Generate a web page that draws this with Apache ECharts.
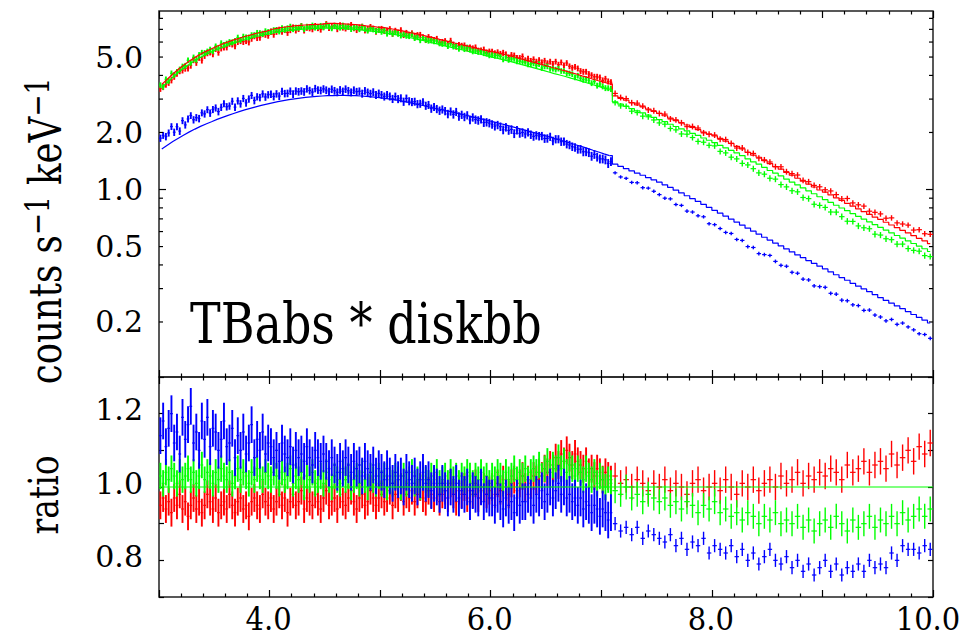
<!DOCTYPE html>
<html>
<head>
<meta charset="utf-8">
<script src="https://cdn.jsdelivr.net/npm/echarts@6/dist/echarts.min.js"></script>
<style>
  html, body { margin: 0; padding: 0; background: #fff; }
  #chart { width: 964px; height: 641px; }
</style>
</head>
<body>
<div id="chart"></div>
<script>
// Energy binning (keV): data bins are 0.025 keV wide below 7.1 keV and
// 0.05 keV wide above; model bins are 0.05 keV wide over the whole band.
const E_MIN = 3.0, E_MAX = 10.0, E_SPLIT = 7.1;
const FINE_WIDTH = 0.025, COARSE_WIDTH = 0.05, MODEL_WIDTH = 0.05;

// Folded TBabs*diskbb model, counts s^-1 keV^-1, one value per 0.05 keV bin (3.0-10.0 keV)
const modelRed = [
  3.59,3.82,4.07,4.31,4.54,4.76,4.98,5.18,5.36,5.53,
  5.70,5.87,6.01,6.16,6.28,6.42,6.53,6.66,6.76,6.85,
  7.01,7.10,7.18,7.25,7.30,7.35,7.38,7.41,7.43,7.46,
  7.53,7.53,7.50,7.48,7.45,7.42,7.37,7.31,7.27,7.20,
  7.17,7.08,7.01,6.92,6.83,6.73,6.65,6.54,6.43,6.33,
  6.23,6.12,6.03,5.93,5.84,5.75,5.66,5.56,5.47,5.39,
  5.33,5.24,5.16,5.07,4.99,4.89,4.80,4.72,4.63,4.55,
  4.46,4.38,4.30,4.23,4.14,4.07,3.98,3.91,3.82,3.75,
  3.69,3.61,3.12,3.03,2.96,2.87,2.80,2.73,2.66,2.58,
  2.52,2.45,2.38,2.31,2.25,2.19,2.13,2.07,2.01,1.96,
  1.92,1.86,1.80,1.75,1.69,1.64,1.57,1.52,1.48,1.42,
  1.37,1.32,1.28,1.23,1.19,1.147,1.107,1.068,1.031,0.994,
  0.968,0.936,0.904,0.875,0.846,0.817,0.791,0.764,0.739,0.715,
  0.695,0.672,0.650,0.629,0.609,0.590,0.571,0.553,0.536,0.518
];
const modelGreen = [
  3.45,3.67,3.91,4.14,4.37,4.58,4.79,4.98,5.15,5.32,
  5.48,5.64,5.78,5.92,6.04,6.17,6.28,6.40,6.50,6.59,
  6.68,6.76,6.84,6.90,6.95,7.00,7.03,7.06,7.08,7.10,
  7.10,7.10,7.08,7.06,7.03,7.00,6.95,6.90,6.86,6.79,
  6.73,6.65,6.58,6.50,6.41,6.32,6.24,6.14,6.04,5.94,
  5.85,5.75,5.66,5.57,5.48,5.40,5.31,5.22,5.14,5.06,
  4.98,4.90,4.82,4.74,4.66,4.57,4.49,4.41,4.33,4.25,
  4.17,4.09,4.02,3.95,3.87,3.80,3.72,3.65,3.57,3.50,
  3.43,3.36,2.90,2.82,2.75,2.67,2.60,2.54,2.47,2.40,
  2.34,2.28,2.21,2.15,2.09,2.04,1.98,1.93,1.87,1.82,
  1.77,1.71,1.66,1.61,1.56,1.51,1.45,1.40,1.36,1.31,
  1.26,1.22,1.18,1.135,1.095,1.057,1.020,0.984,0.950,0.916,
  0.884,0.855,0.826,0.799,0.773,0.746,0.722,0.698,0.675,0.653,
  0.632,0.611,0.591,0.572,0.554,0.536,0.519,0.503,0.487,0.471
];
const modelBlue = [
  1.637,1.714,1.791,1.866,1.941,2.014,2.084,2.153,2.218,2.280,
  2.344,2.404,2.463,2.520,2.576,2.630,2.682,2.732,2.780,2.825,
  2.868,2.908,2.944,2.979,3.010,3.038,3.062,3.083,3.101,3.115,
  3.126,3.133,3.137,3.137,3.133,3.126,3.115,3.101,3.083,3.062,
  3.038,3.010,2.979,2.944,2.908,2.868,2.825,2.783,2.742,2.701,
  2.661,2.621,2.582,2.544,2.506,2.466,2.427,2.388,2.350,2.312,
  2.275,2.236,2.198,2.160,2.123,2.084,2.046,2.009,1.972,1.936,
  1.899,1.862,1.826,1.791,1.754,1.718,1.683,1.648,1.612,1.578,
  1.543,1.510,1.361,1.324,1.288,1.253,1.220,1.189,1.156,1.125,
  1.093,1.059,1.026,0.992,0.959,0.927,0.895,0.865,0.835,0.805,
  0.777,0.750,0.724,0.698,0.673,0.649,0.625,0.603,0.581,0.560,
  0.541,0.522,0.504,0.486,0.469,0.452,0.437,0.422,0.408,0.394,
  0.381,0.368,0.355,0.343,0.332,0.320,0.309,0.299,0.289,0.279,
  0.269,0.260,0.2515,0.243,0.235,0.227,0.219,0.2115,0.2045,0.1975
];

// Data/model ratio per data bin: 164 fine bins (3.0-7.1 keV), then 58 coarse bins (7.1-10.0 keV)
const ratioRed = [
  0.95,0.97,0.94,0.96,0.93,0.97,0.95,0.98,0.94,0.96,
  0.92,0.95,0.97,0.94,0.96,0.93,0.95,0.98,0.96,0.94,
  0.97,0.93,0.95,0.96,0.94,0.98,0.95,0.93,0.96,0.97,
  0.94,0.95,0.92,0.96,0.97,0.95,0.94,0.98,0.96,0.95,
  0.97,0.94,0.96,0.98,0.95,0.97,0.93,0.96,0.98,0.95,
  0.96,0.99,0.94,0.97,0.96,0.95,0.98,0.96,0.94,0.97,
  0.99,0.95,0.96,0.97,0.94,0.98,0.96,0.95,0.97,0.99,
  0.96,0.94,0.97,0.98,0.95,0.96,0.99,0.97,0.95,0.97,
  0.98,0.96,0.97,0.99,0.95,0.98,0.97,1.00,0.96,0.98,
  0.97,0.99,0.96,0.98,1.00,0.97,0.96,0.99,0.98,0.97,
  1.00,0.96,0.98,0.99,0.97,1.01,0.98,0.96,0.99,0.98,
  1.00,0.97,0.99,0.98,1.01,0.97,0.99,1.00,0.98,0.99,
  1.00,0.98,1.01,0.99,1.02,1.00,0.98,1.01,1.02,0.99,
  1.01,1.03,1.00,1.02,1.01,1.03,
  1.02,1.04,1.03,1.05,1.04,1.06,1.05,1.08,1.06,1.09,
  1.07,1.10,1.08,1.06,1.09,1.07,
  1.06,1.05,1.07,1.04,1.05,1.03,1.05,1.04,1.02,1.04,1.03,1.02,
  1.03,1.01,1.02,1.00,1.02,1.01,0.99,1.01,
  1.00,1.02,0.99,1.01,1.00,0.98,1.01,1.02,0.99,1.00,
  1.01,0.99,1.02,1.00,0.98,1.01,1.00,1.02,0.99,1.01,
  1.02,1.00,1.03,1.01,1.02,1.04,1.01,1.03,1.02,1.04,
  1.03,1.05,1.04,1.02,1.06,1.04,1.05,1.07,1.04,1.06,
  1.07,1.05,1.09,1.06,1.08,1.10,1.07,1.11,1.09,1.12
];
const ratioGreen = [
  1.03,1.01,1.04,1.02,1.05,1.03,1.01,1.04,1.02,1.03,
  1.05,1.02,1.04,1.01,1.03,1.06,1.02,1.04,1.03,1.01,
  1.04,1.02,1.05,1.03,1.02,1.04,1.01,1.03,1.05,1.02,
  1.04,1.03,1.01,1.04,1.02,1.05,1.03,1.02,1.04,1.03,
  1.02,1.04,1.03,1.01,1.04,1.02,1.03,1.05,1.01,1.03,
  1.02,1.04,1.00,1.03,1.02,1.04,1.01,1.02,1.03,1.01,
  1.04,1.02,1.00,1.03,1.02,1.01,1.04,1.02,1.03,1.00,
  1.02,1.03,1.01,1.04,1.02,1.00,1.03,1.02,1.01,1.03,
  1.01,1.03,1.00,1.02,1.01,1.03,1.02,1.00,1.03,1.01,
  1.02,1.04,1.01,1.02,1.00,1.03,1.02,1.01,1.03,1.02,
  1.04,1.01,1.02,1.03,1.01,1.04,1.02,1.03,1.01,1.03,
  1.02,1.04,1.03,1.01,1.03,1.02,1.04,1.02,1.03,1.01,
  1.03,1.02,1.04,1.03,1.01,1.04,1.02,1.03,1.05,1.02,
  1.04,1.03,1.05,1.02,1.04,1.05,
  1.04,1.06,1.03,1.05,1.07,1.04,1.06,1.05,1.08,1.05,
  1.07,1.04,1.06,1.05,1.03,1.05,
  1.04,1.02,1.05,1.03,1.02,1.04,1.01,1.03,1.02,1.00,1.02,1.01,
  0.99,0.98,1.00,0.97,0.98,0.96,0.98,0.97,
  0.96,0.97,0.95,0.96,0.94,0.96,0.95,0.93,0.95,0.94,0.96,0.93,
  0.94,0.92,0.93,0.91,0.93,0.92,0.90,0.92,0.91,0.93,0.90,0.91,
  0.90,0.92,0.89,0.91,0.88,0.90,0.91,0.89,0.92,0.90,0.88,0.91,0.89,0.90,0.92,0.89,0.91,0.90,
  0.92,0.90,0.93,0.91,0.92,0.94,0.92,0.94
];
const ratioBlue = [
  1.14,1.18,1.11,1.16,1.20,1.12,1.15,1.09,1.19,1.13,
  1.17,1.22,1.12,1.15,1.10,1.18,1.13,1.19,1.11,1.16,
  1.15,1.10,1.13,1.18,1.11,1.12,1.16,1.08,1.14,1.10,
  1.15,1.09,1.12,1.17,1.08,1.13,1.10,1.15,1.09,1.12,
  1.11,1.08,1.10,1.07,1.12,1.09,1.08,1.11,1.06,1.10,
  1.08,1.09,1.07,1.11,1.08,1.06,1.10,1.08,1.07,1.09,
  1.07,1.05,1.08,1.06,1.04,1.07,1.05,1.08,1.06,1.04,
  1.07,1.05,1.06,1.03,1.07,1.05,1.04,1.06,1.03,1.05,
  1.04,1.02,1.05,1.03,1.01,1.04,1.02,1.03,1.00,1.04,
  1.02,1.01,1.03,1.00,1.02,1.04,1.01,1.02,0.99,1.01,
  1.00,0.98,1.01,0.99,0.97,1.00,0.98,1.01,0.97,0.99,
  0.98,1.00,0.96,0.99,0.98,0.97,1.00,0.96,0.98,0.97,
  0.97,0.95,0.98,0.96,0.94,0.97,0.95,0.96,0.93,0.97,0.95,0.96,
  0.96,0.98,0.97,0.95,0.98,0.97,0.99,0.96,0.98,1.00,0.97,0.99,1.01,0.98,1.00,0.97,
  0.98,0.96,0.97,0.95,0.97,0.94,0.96,0.95,0.93,0.95,0.94,0.92,0.94,0.93,0.91,0.93,
  0.90,0.88,0.89,0.87,0.89,0.86,0.88,0.87,
  0.86,0.85,0.87,0.84,0.86,0.83,0.85,0.84,0.86,0.82,0.84,0.83,
  0.82,0.84,0.81,0.83,0.80,0.82,0.79,0.81,0.83,0.80,0.79,0.81,
  0.78,0.80,0.77,0.79,0.76,0.78,0.80,0.77,0.79,0.76,0.78,0.77,
  0.79,0.77,0.80,0.78,0.79,0.78,
  0.82,0.80,0.84,0.83,0.83,0.82,0.84,0.83
];
// 1-sigma ratio errors: [fine bins, coarse bins]
const ratioErrRed = [0.038, 0.036];
const ratioErrGreen = [0.036, 0.034];
const ratioErrBlue = [0.050, 0.018];

// Axis ticks and labels
const energyLabels = [4, 6, 8, 10];
const countLabels = [0.2, 0.5, 1, 2, 5];
const countMinorTicks = [0.2, 0.3, 0.4, 0.5, 0.6, 0.7, 0.8, 0.9, 2, 3, 4, 5, 6, 7, 8];
const countMajorTicks = [1];
const ratioLabels = [0.8, 1.0, 1.2];

const COLORS = { red: '#ff0000', green: '#00ff00', blue: '#0000ff' };
const FONT = 'DejaVu Serif';

const N_FINE = Math.round((E_SPLIT - E_MIN) / FINE_WIDTH);
function binCenter(i) {
  return i < N_FINE ? E_MIN + (i + 0.5) * FINE_WIDTH : E_SPLIT + (i - N_FINE + 0.5) * COARSE_WIDTH;
}
function binWidth(i) { return i < N_FINE ? FINE_WIDTH : COARSE_WIDTH; }
function modelBin(e) { return Math.floor((e - E_MIN) / MODEL_WIDTH + 1e-9); }

// Error-bar items: [E, y, yLow, yHigh, capHalfWidth, lineWidth]
function countsData(model, ratio, err, coarseCap) {
  return ratio.map((r, i) => {
    const e = binCenter(i), m = model[modelBin(e)], s = err[i < N_FINE ? 0 : 1];
    const hw = binWidth(i) * (i < N_FINE ? 0.5 : coarseCap);
    return [e, m * r, m * (r - s), m * (r + s), hw, i < N_FINE ? 1.9 : 1.4];
  });
}
function ratioData(ratio, err, coarseCap) {
  return ratio.map((r, i) => {
    const e = binCenter(i), s = err[i < N_FINE ? 0 : 1];
    const hw = binWidth(i) * (i < N_FINE ? 0.5 : coarseCap);
    return [e, r, r - s, r + s, hw, i < N_FINE ? 1.9 : 1.4];
  });
}
function modelLine(model, from, to) {
  const pts = [];
  for (let j = from; j <= to; j++) pts.push([E_MIN + (j + 0.5) * MODEL_WIDTH, model[j]]);
  return pts;
}

function errorBars(color) {
  return function (params, api) {
    const x = api.value(0), y = api.value(1), hw = api.value(4), lw = api.value(5);
    const c = api.coord([x, y]);
    const lo = api.coord([x, api.value(2)]);
    const hi = api.coord([x, api.value(3)]);
    const l = api.coord([x - hw, y]);
    const r = api.coord([x + hw, y]);
    return {
      type: 'group',
      children: [
        { type: 'line', shape: { x1: c[0], y1: lo[1], x2: c[0], y2: hi[1] }, style: { stroke: color, lineWidth: lw } },
        { type: 'line', shape: { x1: l[0], y1: c[1], x2: r[0], y2: c[1] }, style: { stroke: color, lineWidth: 1.2 } }
      ]
    };
  };
}

function dataSeries(color, data, panel) {
  return {
    type: 'custom', silent: true, clip: true,
    xAxisIndex: panel === 0 ? 0 : 2, yAxisIndex: panel === 0 ? 0 : 1,
    renderItem: errorBars(color), data
  };
}
function lineSeries(color, data, step) {
  return {
    type: 'line', silent: true, showSymbol: false, clip: true,
    xAxisIndex: 0, yAxisIndex: 0, step: step ? 'middle' : false,
    lineStyle: { color, width: 1.2 }, data
  };
}

function energyAxis(gridIndex, position) {
  return {
    type: 'value', gridIndex, position, min: E_MIN, max: E_MAX, interval: 1,
    axisLine: { show: false },
    axisTick: { show: true, inside: true, length: 7, lineStyle: { color: '#000', width: 1.2 } },
    minorTick: { show: true, splitNumber: 5, length: 3.5, lineStyle: { color: '#000', width: 1.2 } },
    splitLine: { show: false },
    axisLabel: { show: false }
  };
}
function ratioAxis(position) {
  return {
    type: 'value', gridIndex: 1, position, min: 0.7, max: 1.3, interval: 0.1,
    axisLine: { show: false },
    axisTick: { show: true, inside: true, length: 5, lineStyle: { color: '#000', width: 1.2 } },
    splitLine: { show: false },
    axisLabel: { show: false }
  };
}

// Left-side tick labels drawn at their axis values
function tickLabels(xIdx, yIdx, values, dy) {
  return {
    type: 'custom', silent: true, xAxisIndex: xIdx, yAxisIndex: yIdx,
    data: values.map(v => [E_MIN, v]),
    renderItem: function (params, api) {
      const v = api.value(1), p = api.coord([E_MIN, v]);
      return { type: 'text', style: { text: v.toFixed(1), x: p[0] - 16, y: p[1] + dy, align: 'right', verticalAlign: 'middle',
        fontFamily: FONT, fontSize: 30, fill: '#000' } };
    }
  };
}
// Energy labels under the lower panel
function energyLabelSeries() {
  return {
    type: 'custom', silent: true, xAxisIndex: 2, yAxisIndex: 1,
    data: energyLabels.map(v => [v, 0.7]),
    renderItem: function (params, api) {
      const v = api.value(0), p = api.coord([v, 0.7]);
      return { type: 'text', x: p[0] - (v === E_MAX ? 5 : 1), y: p[1] + 22, scaleY: 1.1,
        style: { text: v.toFixed(1), x: 0, y: 0, align: 'center', verticalAlign: 'middle',
          fontFamily: FONT, fontSize: 29, fill: '#000' } };
    }
  };
}

// Log-axis ticks on both sides of the upper panel
const logTickData = countMinorTicks.map(v => [E_MIN, v, 4]).concat(countMajorTicks.map(v => [E_MIN, v, 7]));

const option = {
  animation: false,
  backgroundColor: '#fff',
  grid: [
    { left: 159, top: 11, width: 774, height: 366, show: true, borderColor: '#222', borderWidth: 1.5, backgroundColor: 'transparent' },
    { left: 159, top: 377, width: 774, height: 220, show: true, borderColor: '#222', borderWidth: 1.5, backgroundColor: 'transparent' }
  ],
  xAxis: [
    energyAxis(0, 'bottom'),
    energyAxis(0, 'top'),
    energyAxis(1, 'bottom'),
    energyAxis(1, 'top')
  ],
  yAxis: [
    { type: 'log', gridIndex: 0, min: 0.1025, max: 8.75, logBase: 10,
      axisLine: { show: false }, axisTick: { show: false }, axisLabel: { show: false }, splitLine: { show: false } },
    ratioAxis('left'),
    ratioAxis('right')
  ],
  series: [
    // model curves first, so the spectra sit on top of them
    lineSeries(COLORS.red, modelLine(modelRed, 0, 81), false),
    lineSeries(COLORS.red, modelLine(modelRed, 81, 139), true),
    lineSeries(COLORS.green, modelLine(modelGreen, 0, 81), false),
    lineSeries(COLORS.green, modelLine(modelGreen, 81, 139), true),
    lineSeries(COLORS.blue, modelLine(modelBlue, 0, 81), false),
    lineSeries(COLORS.blue, modelLine(modelBlue, 81, 139), true),
    dataSeries(COLORS.red, countsData(modelRed, ratioRed, ratioErrRed, 0.5), 0),
    dataSeries(COLORS.green, countsData(modelGreen, ratioGreen, ratioErrGreen, 0.5), 0),
    dataSeries(COLORS.blue, countsData(modelBlue, ratioBlue, ratioErrBlue, 0.4), 0),
    {
      type: 'custom', silent: true, xAxisIndex: 0, yAxisIndex: 0, data: logTickData,
      renderItem: function (params, api) {
        const len = api.value(2);
        const l = api.coord([E_MIN, api.value(1)]), r = api.coord([E_MAX, api.value(1)]);
        return { type: 'group', children: [
          { type: 'line', shape: { x1: l[0], y1: l[1], x2: l[0] + len, y2: l[1] }, style: { stroke: '#000', lineWidth: 1.2 } },
          { type: 'line', shape: { x1: r[0], y1: r[1], x2: r[0] - len, y2: r[1] }, style: { stroke: '#000', lineWidth: 1.2 } }
        ] };
      }
    },
    tickLabels(0, 0, countLabels, 0),
    dataSeries(COLORS.red, ratioData(ratioRed, ratioErrRed, 0.5), 1),
    dataSeries(COLORS.green, ratioData(ratioGreen, ratioErrGreen, 0.5), 1),
    dataSeries(COLORS.blue, ratioData(ratioBlue, ratioErrBlue, 0.4), 1),
    {
      type: 'line', silent: true, showSymbol: false, xAxisIndex: 2, yAxisIndex: 1,
      lineStyle: { color: COLORS.green, width: 1.2 }, data: [[E_MIN, 1], [E_MAX, 1]]
    },
    tickLabels(2, 1, ratioLabels, -4),
    energyLabelSeries()
  ],
  graphic: [
    { type: 'text', x: 190, y: 324, scaleY: 1.2,
      style: { text: 'TBabs * diskbb', fontFamily: FONT, fontSize: 46, fill: '#000', align: 'left', verticalAlign: 'middle' } },
    { type: 'text', x: 44, y: 231, rotation: Math.PI / 2, scaleY: 1.27,
      style: { text: '{n|counts s}{s|−1}{n| keV}{s|−1}', align: 'center', verticalAlign: 'middle', fill: '#000',
        rich: {
          n: { fontFamily: FONT, fontSize: 35.5, lineHeight: 38, verticalAlign: 'bottom', fill: '#000' },
          s: { fontFamily: FONT, fontSize: 26.5, lineHeight: 26.5, verticalAlign: 'top', fill: '#000' }
        } } },
    { type: 'text', x: 44, y: 495, rotation: Math.PI / 2, scaleY: 1.27,
      style: { text: 'ratio', fontFamily: FONT, fontSize: 33, fill: '#000', align: 'center', verticalAlign: 'middle' } }
  ]
};

const chart = echarts.init(document.getElementById('chart'), null, { renderer: 'svg' });
chart.setOption(option);
</script>
</body>
</html>
